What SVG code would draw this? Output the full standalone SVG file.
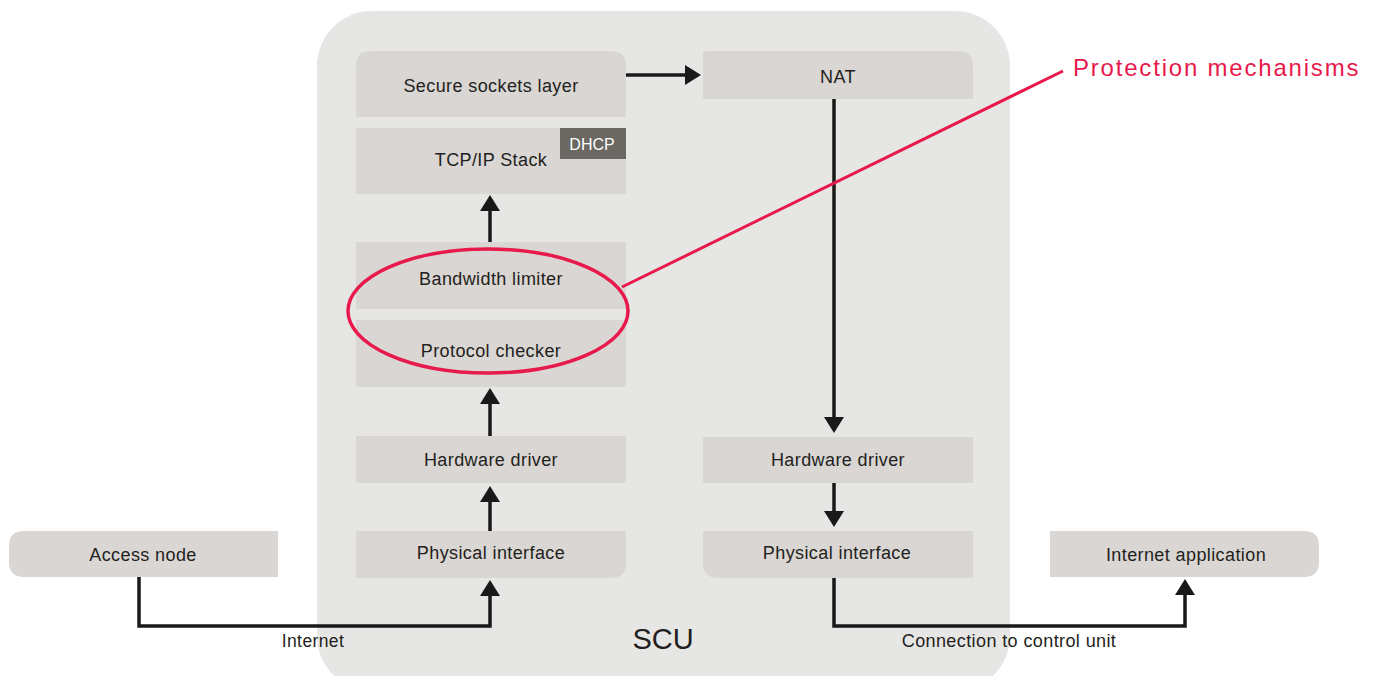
<svg xmlns="http://www.w3.org/2000/svg" width="1374" height="676" viewBox="0 0 1374 676">
<defs>
<style>
.box{fill:#d9d6d3}
.lbl{font-family:"Liberation Sans",Arial,Helvetica,sans-serif;font-size:18px;fill:#231f20;text-anchor:middle;letter-spacing:0.4px}
.conn{fill:none;stroke:#1a1818;stroke-width:3.5}
.red{fill:none;stroke:#e8194b;stroke-width:3.5}
</style>
<marker id="ah" viewBox="0 0 16 20" refX="13" refY="10" markerWidth="16" markerHeight="20" markerUnits="userSpaceOnUse" orient="auto">
<path d="M0,0 L16,10 L0,20 z" fill="#1a1818"/>
</marker>
</defs>
<rect width="1374" height="676" fill="#ffffff"/>
<g id="scu">
<rect x="317" y="11" width="693" height="680" rx="55" ry="55" fill="#e6e6e5"/>
<text x="663" y="649" class="lbl" style="font-size:29px;letter-spacing:0">SCU</text>
</g>
<g id="ssl">
<path class="box" d="M356,117 V66 Q356,51 371,51 H611 Q626,51 626,66 V117 Z"/>
<text x="491" y="92" class="lbl">Secure sockets layer</text>
</g>
<g id="tcpip">
<rect class="box" x="356" y="128" width="270" height="66"/>
<text x="491" y="166" class="lbl">TCP/IP Stack</text>
</g>
<g id="dhcp">
<rect x="560" y="128" width="66" height="31" fill="#6b6762"/>
<text x="592" y="150" class="lbl" style="font-size:16px;fill:#ffffff;letter-spacing:0">DHCP</text>
</g>
<g id="bandwidth">
<rect class="box" x="356" y="242" width="270" height="67"/>
<text x="491" y="285" class="lbl">Bandwidth limiter</text>
</g>
<g id="protocol">
<rect class="box" x="356" y="320" width="270" height="67"/>
<text x="491" y="357" class="lbl">Protocol checker</text>
</g>
<g id="hwleft">
<rect class="box" x="356" y="436" width="270" height="47"/>
<text x="491" y="466" class="lbl">Hardware driver</text>
</g>
<g id="phyleft">
<path class="box" d="M356,531 H626 V563 Q626,578 611,578 H356 Z"/>
<text x="491" y="559" class="lbl">Physical interface</text>
</g>
<g id="nat">
<path class="box" d="M703,99 V54 Q703,51 706,51 H958 Q973,51 973,66 V99 Z"/>
<text x="838" y="83" class="lbl">NAT</text>
</g>
<g id="hwright">
<rect class="box" x="703" y="437" width="270" height="46"/>
<text x="838" y="466" class="lbl">Hardware driver</text>
</g>
<g id="phyright">
<path class="box" d="M703,531 H973 V578 H718 Q703,578 703,563 Z"/>
<text x="837" y="559" class="lbl">Physical interface</text>
</g>
<g id="access">
<path class="box" d="M278,531 V577 H24 Q9,577 9,562 V546 Q9,531 24,531 Z"/>
<text x="143" y="561" class="lbl">Access node</text>
</g>
<g id="internetapp">
<path class="box" d="M1050,531 H1304 Q1319,531 1319,546 V562 Q1319,577 1304,577 H1050 Z"/>
<text x="1186" y="561" class="lbl">Internet application</text>
</g>
<g id="connectors">
<path class="conn" d="M139,577 V626 H490 V583" marker-end="url(#ah)"/>
<path class="conn" d="M490,531 V489" marker-end="url(#ah)"/>
<path class="conn" d="M490,436 V391" marker-end="url(#ah)"/>
<path class="conn" d="M490,242 V198" marker-end="url(#ah)"/>
<path class="conn" d="M626,75 H698" marker-end="url(#ah)"/>
<path class="conn" d="M834,99 V430" marker-end="url(#ah)"/>
<path class="conn" d="M834,483 V524" marker-end="url(#ah)"/>
<path class="conn" d="M834,578 V626 H1185 V582" marker-end="url(#ah)"/>
<text x="313" y="647" class="lbl" style="font-size:17.5px">Internet</text>
<text x="1009" y="647" class="lbl" style="font-size:18px">Connection to control unit</text>
</g>
<g id="protection">
<ellipse class="red" cx="488" cy="311" rx="140" ry="62"/>
<line class="red" x1="622" y1="287" x2="1063" y2="71" style="stroke-width:3"/>
<text x="1073" y="76" style="font-family:'Liberation Sans',Arial,sans-serif;font-size:24px;fill:#e8194b;letter-spacing:1.8px">Protection mechanisms</text>
</g>
</svg>
